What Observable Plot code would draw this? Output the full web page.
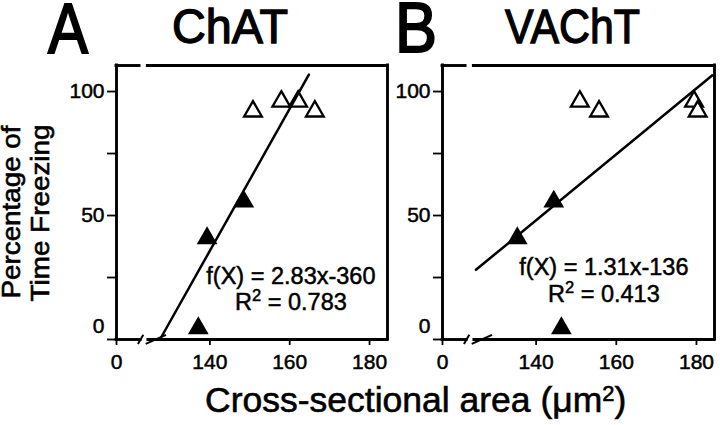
<!DOCTYPE html>
<html>
<head>
<meta charset="utf-8">
<script src="https://cdn.jsdelivr.net/npm/d3@7"></script>
<script src="https://cdn.jsdelivr.net/npm/@observablehq/plot@0.6"></script>
<style>
  html, body { margin: 0; padding: 0; background: #fff; }
  #wrap { position: relative; width: 720px; height: 425px; overflow: hidden; background: #fff; }
  #wrap > svg { position: absolute; left: 0; top: 0; }
</style>
</head>
<body>
<div id="wrap"></div>
<script>
// ---------- data ----------
const panelLetters = ["A", "B"];
const panelTitles = ["ChAT", "VAChT"];
const yLabelLines = ["Percentage of", "Time Freezing"];
const xLabelText = "Cross-sectional area (\u03BCm";
const xLabelSup = "2";

const xTicks = [0, 140, 160, 180];
const yTicks = [0, 25, 50, 75, 100];
const yTickLabels = [50, 100];
const yZeroLabel = [0];

// ChAT panel (A)
const chatArea     = [150.8, 157.9, 162.1, 166.3, 148.5, 139.3, 137.1];
const chatFreezing = [92, 96, 96, 92, 55.6, 40.8, 4.5];
const chatOpen     = [true, true, true, true, false, false, false];
const chatFitX     = [127.6, 164.8];
const chatFitY     = [0.3, 106.8];
const chatEq       = ["f(X) = 2.83x-360", "R2 = 0.783"];

// VAChT panel (B)
const vachtArea     = [150.9, 155.7, 179.4, 180.3, 144.4, 135.3, 146.3];
const vachtFreezing = [96, 92, 96, 92, 55.6, 40.8, 4.5];
const vachtOpen     = [true, true, true, true, false, false, false];
const vachtFitX     = [124.75, 183.9];
const vachtFitY     = [28.1, 106.5];
const vachtEq       = ["f(X) = 1.31x-136", "R2 = 0.413"];

// ---------- layout / scale config ----------
const W = 720, H = 425;
const FONT = "'Liberation Sans', Arial, Helvetica, sans-serif";
const xDomain = [0, 125, 184.5];   // broken axis: 0, break, continuous part
const yTop = 110.5;
const topGap = [86, 117];
const breakMarks = [90, 119];

function makePanel({area, freezing, open, fitX, fitY, eq, eqX, eqY, left, right}) {
  const pts = area.map((a, i) => ({area: a, freezing: freezing[i], open: open[i]}));
  const fit = fitX.map((x, i) => ({area: x, freezing: fitY[i]}));
  const join = left + 33.5;
  const frame = {stroke: "black", strokeWidth: 2.9, strokeLinecap: "square"};
  const chart = Plot.plot({
    width: W, height: H,
    marginLeft: left, marginRight: W - right, marginTop: 65, marginBottom: 86,
    style: {background: "transparent", fontFamily: FONT, color: "black"},
    x: {type: "linear", domain: xDomain, range: [left, join, right]},
    y: {type: "linear", domain: [0, yTop]},
    marks: [
      Plot.ruleX([xDomain[0], xDomain[2]], frame),
      Plot.ruleY([yTop], {...frame, x1: xDomain[0], x2: topGap[0]}),
      Plot.ruleY([yTop], {...frame, x1: topGap[1], x2: xDomain[2]}),
      Plot.ruleY([0], {...frame, x1: xDomain[0], x2: breakMarks[0]}),
      Plot.ruleY([0], {...frame, x1: breakMarks[1], x2: xDomain[2]}),
      Plot.link(breakMarks, {x1: d => d - 10, x2: d => d + 10, y1: -1.8, y2: 1.9, stroke: "black", strokeWidth: 2}),
      Plot.axisX({ticks: xTicks, tickSize: 6, tickPadding: 9, fontSize: 21, strokeWidth: 1.8, tickFormat: d => String(d), label: null}),
      Plot.axisY({ticks: yTicks, tickSize: 9, tickPadding: 3, fontSize: 21, strokeWidth: 1.8, tickFormat: d => yTickLabels.includes(d) ? String(d) : "", label: null}),
      Plot.axisY({ticks: yZeroLabel, tickSize: 0, tickPadding: 12, dy: -13, fontSize: 21, tickFormat: d => String(d), label: null}),
      Plot.dot(pts.filter(d => d.open), {x: "area", y: "freezing", symbol: "triangle", r: 6.6, fill: "white", stroke: "black", strokeWidth: 2.3}),
      Plot.dot(pts.filter(d => !d.open), {x: "area", y: "freezing", symbol: "triangle", r: 7.7, fill: "black"}),
      Plot.line(fit, {x: "area", y: "freezing", stroke: "black", strokeWidth: 2.5}),
      Plot.text([eq[0]], {x: eqX, y: eqY[0], text: d => d, fontSize: 23.5, textAnchor: "middle", lineAnchor: "bottom", fill: "black"}),
      Plot.text([eq[1]], {x: eqX, y: eqY[1], text: d => d, fontSize: 23.5, textAnchor: "middle", lineAnchor: "bottom", fill: "black"})
    ]
  });
  const ns = "http://www.w3.org/2000/svg";
  chart.querySelectorAll("text").forEach(t => {
    // slightly heavier type, like the printed figure
    t.setAttribute("stroke", "black");
    t.setAttribute("stroke-width", "0.5");
    // superscript in "R2"
    const m = t.textContent.match(/^R2( = .*)$/);
    if (m) {
      t.textContent = "R";
      const sup = document.createElementNS(ns, "tspan");
      sup.setAttribute("dy", "-9");
      sup.setAttribute("font-size", "16.5");
      sup.textContent = "2";
      const rest = document.createElementNS(ns, "tspan");
      rest.setAttribute("dy", "9");
      rest.textContent = m[1];
      t.appendChild(sup);
      t.appendChild(rest);
    }
  });
  return chart;
}

const wrap = document.getElementById("wrap");
wrap.appendChild(makePanel({
  area: chatArea, freezing: chatFreezing, open: chatOpen, fitX: chatFitX, fitY: chatFitY,
  eq: chatEq, eqX: 160.3, eqY: [22.2, 11.7], left: 116, right: 387
}));
wrap.appendChild(makePanel({
  area: vachtArea, freezing: vachtFreezing, open: vachtOpen, fitX: vachtFitX, fitY: vachtFitY,
  eq: vachtEq, eqX: 156.9, eqY: [26.2, 15.3], left: 442, right: 714
}));

// ---------- overlay text: titles and axis labels ----------
const ns = "http://www.w3.org/2000/svg";
const ov = document.createElementNS(ns, "svg");
ov.setAttribute("width", W);
ov.setAttribute("height", H);
ov.setAttribute("font-family", FONT);
ov.setAttribute("fill", "black");
ov.setAttribute("stroke", "black");
wrap.appendChild(ov);
function addText(str, attrs) {
  const t = document.createElementNS(ns, "text");
  for (const k in attrs) t.setAttribute(k, attrs[k]);
  t.textContent = str;
  ov.appendChild(t);
  return t;
}
addText(panelLetters[0], {x: 48, y: 53, "font-size": 70, "stroke-width": 2, textLength: 40, lengthAdjust: "spacingAndGlyphs"});
addText(panelTitles[0], {x: 172, y: 43, "font-size": 49, "stroke-width": 1.3, textLength: 116, lengthAdjust: "spacingAndGlyphs"});
addText(panelLetters[1], {x: 395, y: 52, "font-size": 70, "stroke-width": 2, textLength: 42, lengthAdjust: "spacingAndGlyphs"});
addText(panelTitles[1], {x: 505, y: 43, "font-size": 49, "stroke-width": 1.3, textLength: 135, lengthAdjust: "spacingAndGlyphs"});
addText(yLabelLines[0], {transform: "translate(20,212) rotate(-90)", "text-anchor": "middle", "font-size": 25, "stroke-width": 0.6, textLength: 173, lengthAdjust: "spacingAndGlyphs"});
addText(yLabelLines[1], {transform: "translate(49,213) rotate(-90)", "text-anchor": "middle", "font-size": 25, "stroke-width": 0.6, textLength: 177, lengthAdjust: "spacingAndGlyphs"});
const xl = addText(xLabelText, {x: 205, y: 412, "font-size": 35.5, "stroke-width": 0.6});
const s1 = document.createElementNS(ns, "tspan");
s1.setAttribute("dy", "-11"); s1.setAttribute("font-size", "22"); s1.textContent = xLabelSup;
const s2 = document.createElementNS(ns, "tspan");
s2.setAttribute("dy", "11"); s2.textContent = ")";
xl.appendChild(s1); xl.appendChild(s2);
</script>
</body>
</html>
